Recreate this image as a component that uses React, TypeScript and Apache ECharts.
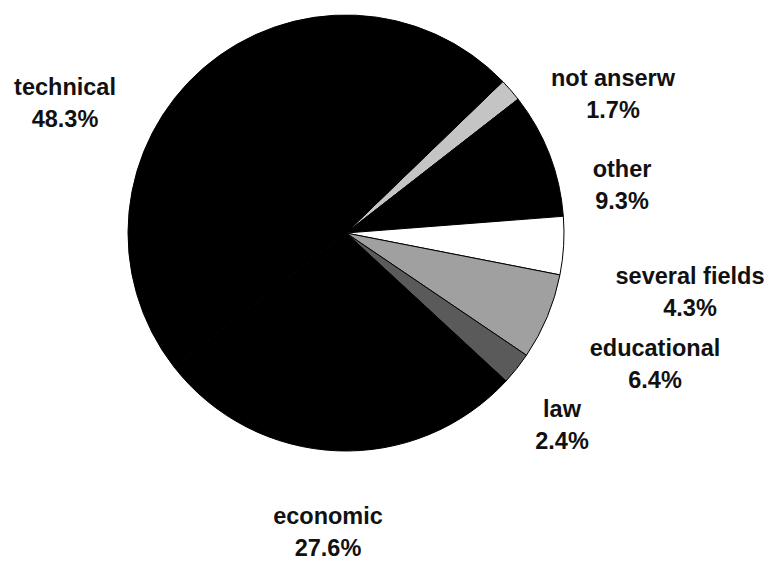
import React, { useEffect, useRef } from "react";
import * as echarts from "echarts";

const categories = ["not anserw", "other", "several fields", "educational", "law", "economic", "technical"];
const shares = [1.7, 9.3, 4.3, 6.4, 2.4, 27.6, 48.3];
const sliceColors = ["#c4c4c4", "#000000", "#ffffff", "#a0a0a0", "#5a5a5a", "#000000", "#000000"];
const labelCenters: [number, number][] = [
  [613, 94],
  [622, 185],
  [690, 292],
  [655, 364],
  [562, 425],
  [328, 532],
  [65, 103],
];

export default function App() {
  const ref = useRef<HTMLDivElement>(null);
  useEffect(() => {
    document.body.style.margin = "0";
    const chart = echarts.init(ref.current!, null, { renderer: "svg" });
    chart.setOption({
      animation: false,
      backgroundColor: "#ffffff",
      series: [
        {
          type: "pie",
          center: [346, 233],
          radius: [0, 218],
          startAngle: 44,
          clockwise: true,
          avoidLabelOverlap: false,
          itemStyle: { borderColor: "#000", borderWidth: 1 },
          label: {
            show: true,
            formatter: (p: any) => `${p.name}\n${p.value.toFixed(1)}%`,
            fontFamily: "Liberation Sans, Arial, sans-serif",
            fontWeight: "bold",
            fontSize: 23.5,
            lineHeight: 32,
            color: "#111",
            align: "center",
          },
          labelLine: { show: false },
          labelLayout: (params: any) => {
            const c = labelCenters[params.dataIndex];
            return { x: c[0], y: c[1], align: "center", verticalAlign: "middle" };
          },
          data: categories.map((name, i) => ({
            name,
            value: shares[i],
            itemStyle: { color: sliceColors[i] },
          })),
        },
      ],
    });
    return () => chart.dispose();
  }, []);
  return <div ref={ref} style={{ width: 774, height: 561 }} />;
}
